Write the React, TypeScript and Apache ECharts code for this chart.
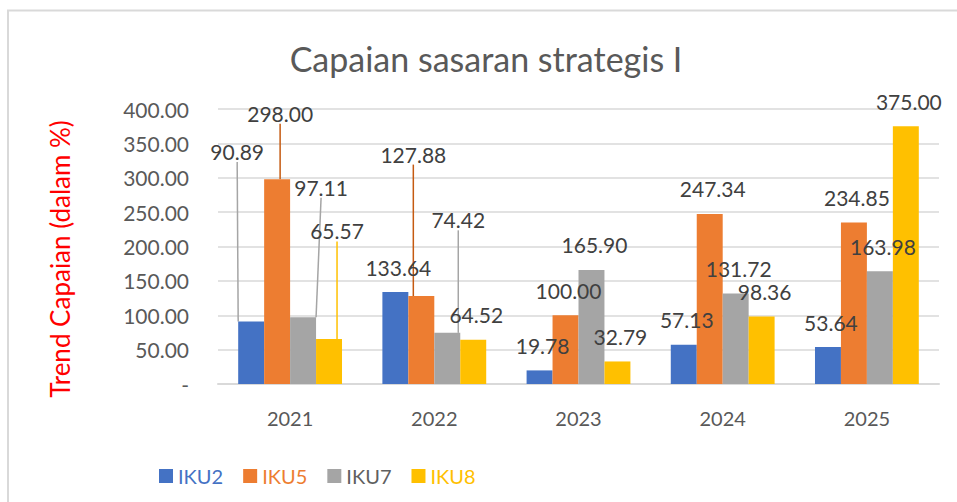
import React, { useEffect, useRef } from "react";
import * as echarts from "echarts";

const categories = ["2021", "2022", "2023", "2024", "2025"];
const seriesNames = ["IKU2", "IKU5", "IKU7", "IKU8"];
const iku2 = [90.89, 133.64, 19.78, 57.13, 53.64];
const iku5 = [298.0, 127.88, 100.0, 247.34, 234.85];
const iku7 = [97.11, 74.42, 165.9, 131.72, 163.98];
const iku8 = [65.57, 64.52, 32.79, 98.36, 375.0];
const yTicks = [0, 50, 100, 150, 200, 250, 300, 350, 400];

const colors = ["#4472C4", "#ED7D31", "#A5A5A5", "#FFC000"];
const legendTextColors = ["#4472C4", "#ED7D31", "#5F5F5F", "#FFC000"];
const leaderColors = ["#A5A5A5", "#C55A11", "#A5A5A5", "#FFC000"];

// label shift relative to top-centre of each bar: [dx, dy]
const D = [3, -25];
const labelShifts = [
  [[-14, -170], D, D, D, D],
  [[3, -66], [-8, -142], D, D, D],
  [[18, -130], [11, -113], D, D, D],
  [[8, -108], D, D, D, D],
];
const leaders = [
  [true, false, false, false, false],
  [true, true, false, false, false],
  [true, true, false, false, false],
  [true, false, false, false, false],
];

const FONT = "Lato, 'Open Sans', sans-serif";

export default function App() {
  const ref = useRef<HTMLDivElement>(null);
  useEffect(() => {
    document.body.style.margin = "0";
    if (!ref.current) return;
    const chart = echarts.init(ref.current, undefined, { renderer: "svg" });
    const values = [iku2, iku5, iku7, iku8];
    const option: any = {
      animation: false,
      textStyle: { fontFamily: FONT },
      title: {
        text: "Capaian sasaran strategis I",
        left: 481,
        top: 36,
        textAlign: "center",
        textStyle: { fontFamily: FONT, fontSize: 34, fontWeight: "normal", color: "#595959" },
      },
      graphic: [
        {
          type: "polyline",
          shape: { points: [[8, 520], [8, 10.5], [970, 10.5]] },
          style: { stroke: "#D9D9D9", lineWidth: 2, fill: "none" },
          silent: true,
        },
        {
          type: "text",
          x: 60,
          y: 259,
          rotation: Math.PI / 2,
          style: {
            text: "Trend Capaian (dalam %)",
            fill: "#FF0000",
            font: `26px ${FONT}`,
            align: "center",
            verticalAlign: "middle",
          },
        },
      ],
      legend: {
        left: 154,
        top: 461,
        itemWidth: 14,
        itemHeight: 14,
        itemGap: 20,
        icon: "rect",
        data: seriesNames.map((n, i) => ({
          name: n,
          textStyle: { color: legendTextColors[i], fontSize: 20, fontFamily: FONT },
        })),
      },
      grid: { left: 218, right: 18, top: 109, bottom: 118 },
      xAxis: {
        type: "category",
        data: categories,
        axisLine: { lineStyle: { color: "#D9D9D9", width: 2 } },
        axisTick: { show: false },
        axisLabel: { color: "#595959", fontSize: 20, fontFamily: FONT, margin: 24 },
      },
      yAxis: {
        type: "value",
        min: yTicks[0],
        max: yTicks[yTicks.length - 1],
        interval: 50,
        axisLine: { show: false },
        axisTick: { show: false },
        splitLine: { lineStyle: { color: "#D9D9D9", width: 1.5 } },
        axisLabel: {
          color: "#595959",
          fontSize: 21,
          fontFamily: FONT,
          margin: 29,
          formatter: (v: number) => (v === 0 ? "-" : v.toFixed(2)),
        },
      },
      series: values.map((arr, si) => ({
        name: seriesNames[si],
        type: "bar",
        barGap: "0%",
        barCategoryGap: "28%",
        itemStyle: { color: colors[si] },
        label: {
          show: true,
          position: "top",
          color: "#404040",
          fontSize: 21,
          fontFamily: FONT,
          formatter: (p: any) => Number(p.value).toFixed(2),
        },
        labelLayout: (params: any) => {
          const s = labelShifts[params.seriesIndex][params.dataIndex];
          return {
            x: params.rect.x + params.rect.width / 2 + s[0],
            y: params.rect.y + s[1],
            align: "center",
            verticalAlign: "middle",
          };
        },
        data: arr.map((v, ci) => ({
          value: v,
          labelLine: {
            show: leaders[si][ci],
            lineStyle: { color: leaderColors[si], width: 1.5 },
          },
        })),
      })),
    };
    chart.setOption(option);
    return () => chart.dispose();
  }, []);
  return <div ref={ref} style={{ width: 957, height: 502 }} />;
}
